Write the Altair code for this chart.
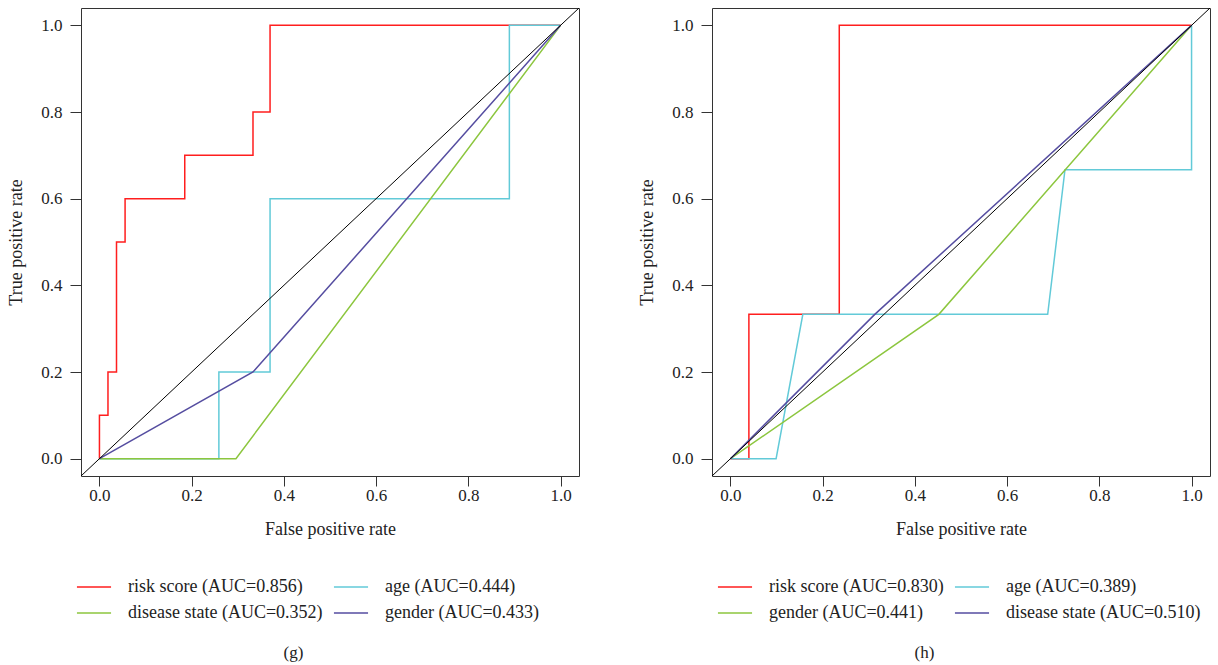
import altair as alt
import pandas as pd

FONT = "Liberation Serif"
TXT = "#222222"

# ---------------- panel (g) ----------------
g_labels = ["risk score (AUC=0.856)", "age (AUC=0.444)",
            "disease state (AUC=0.352)", "gender (AUC=0.433)"]
g_colors = ["#FF1E1E", "#62CAD8", "#8CC63E", "#554DA0"]
g_risk_fpr = [0, 0, 0.0185, 0.0185, 0.037, 0.037, 0.0556, 0.0556, 0.185, 0.185, 0.333, 0.333, 0.370, 0.370, 1.0]
g_risk_tpr = [0, 0.1, 0.1, 0.2, 0.2, 0.5, 0.5, 0.6, 0.6, 0.7, 0.7, 0.8, 0.8, 1.0, 1.0]
g_age_fpr = [0, 0.259, 0.259, 0.370, 0.370, 0.889, 0.889, 1.0]
g_age_tpr = [0, 0, 0.2, 0.2, 0.6, 0.6, 1.0, 1.0]
g_dis_fpr = [0, 0.296, 1.0]
g_dis_tpr = [0, 0, 1.0]
g_gen_fpr = [0, 0.333, 1.0]
g_gen_tpr = [0, 0.2, 1.0]

# ---------------- panel (h) ----------------
h_labels = ["risk score (AUC=0.830)", "age (AUC=0.389)",
            "gender (AUC=0.441)", "disease state (AUC=0.510)"]
h_colors = ["#FF1E1E", "#62CAD8", "#8CC63E", "#554DA0"]
h_risk_fpr = [0, 0.040, 0.040, 0.236, 0.236, 1.0]
h_risk_tpr = [0, 0, 0.333, 0.333, 1.0, 1.0]
h_age_fpr = [0, 0.099, 0.157, 0.688, 0.7255, 1.0, 1.0]
h_age_tpr = [0, 0, 0.333, 0.333, 0.667, 0.667, 1.0]
h_gen_fpr = [0, 0.452, 1.0]
h_gen_tpr = [0, 0.333, 1.0]
h_dis_fpr = [0, 0.313, 1.0]
h_dis_tpr = [0, 0.333, 1.0]

# reference diagonal (clipped to the plotting region)
diag_vals = [-0.04, 1.04]
tick_vals = [0.0, 0.2, 0.4, 0.6, 0.8, 1.0]


def make_df(labels, fprs, tprs):
    rows = []
    for lab, f, t in zip(labels, fprs, tprs):
        for i, (x, y) in enumerate(zip(f, t)):
            rows.append({"series": lab, "fpr": x, "tpr": y, "idx": i})
    return pd.DataFrame(rows)


g_df = make_df(g_labels, [g_risk_fpr, g_age_fpr, g_dis_fpr, g_gen_fpr],
               [g_risk_tpr, g_age_tpr, g_dis_tpr, g_gen_tpr])
h_df = make_df(h_labels, [h_risk_fpr, h_age_fpr, h_gen_fpr, h_dis_fpr],
               [h_risk_tpr, h_age_tpr, h_gen_tpr, h_dis_tpr])
diag_df = pd.DataFrame({"fpr": diag_vals, "tpr": diag_vals})


def panel(df, labels, colors, legend_x, caption):
    xs = alt.Scale(domain=[-0.04, 1.04], nice=False, zero=False)
    ys = alt.Scale(domain=[-0.04, 1.04], nice=False, zero=False)
    xaxis = alt.Axis(values=tick_vals, format=".1f", grid=False, domain=False,
                     tickSize=10, tickColor="#333333", labelFlush=False,
                     labelFont=FONT, labelFontSize=17, labelColor=TXT, labelPadding=1,
                     titleFont=FONT, titleFontSize=18, titleFontWeight="normal",
                     titleColor=TXT, titlePadding=17)
    yaxis = alt.Axis(values=tick_vals, format=".1f", grid=False, domain=False,
                     tickSize=11, tickColor="#333333", labelAngle=0, labelFlush=False,
                     labelFont=FONT, labelFontSize=17, labelColor=TXT, labelPadding=8,
                     titleFont=FONT, titleFontSize=18, titleFontWeight="normal",
                     titleColor=TXT, titlePadding=15)
    legend = alt.Legend(title=None, orient="none", legendX=legend_x, legendY=570,
                        columns=2, direction="horizontal",
                        symbolType="M-3.1,0H3.1", symbolSize=121,
                        symbolStrokeWidth=1.5, labelFont=FONT, labelFontSize=18,
                        labelColor=TXT, labelOffset=25, rowPadding=8,
                        columnPadding=7, padding=0, labelLimit=0)
    lines = alt.Chart(df).mark_line(strokeWidth=1.5, clip=True).encode(
        x=alt.X("fpr:Q", scale=xs, axis=xaxis, title="False positive rate"),
        y=alt.Y("tpr:Q", scale=ys, axis=yaxis, title="True positive rate"),
        color=alt.Color("series:N", sort=labels,
                        scale=alt.Scale(domain=labels, range=colors),
                        legend=legend),
        order="idx:Q",
    )
    diag = alt.Chart(diag_df).mark_line(color="black", strokeWidth=1, clip=True).encode(
        x=alt.X("fpr:Q", scale=xs),
        y=alt.Y("tpr:Q", scale=ys),
    )
    return alt.layer(lines, diag).properties(
        width=498, height=468,
        title=alt.TitleParams(caption, orient="bottom", anchor="middle", frame="bounds",
                              font=FONT, fontSize=17, fontWeight="normal",
                              color=TXT, offset=23),
    )


pg = panel(g_df, g_labels, g_colors, 4, "(g)")
ph = panel(h_df, h_labels, h_colors, 14, "(h)")

chart = alt.hconcat(pg, ph, spacing=58).resolve_scale(
    color="independent", x="independent", y="independent"
).resolve_legend(color="independent").configure_view(
    stroke="#333333", strokeWidth=1
).properties(
    padding={"left": 7, "top": 7, "right": 0, "bottom": 0},
    background="white",
)

chart.save("out.html", embed_options={"renderer": "svg", "actions": False})
